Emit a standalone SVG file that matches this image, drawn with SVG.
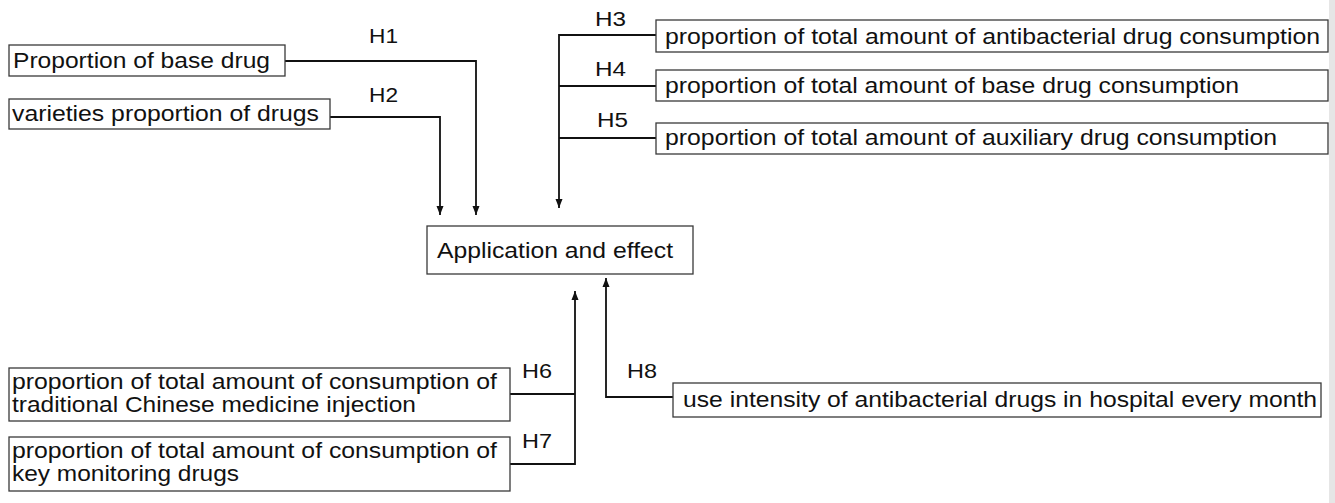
<svg xmlns="http://www.w3.org/2000/svg" width="1335" height="503" viewBox="0 0 1335 503">
<style>
.box{fill:#fff;stroke:#3a3a3a;stroke-width:1.3}
.t{font-family:"Liberation Sans",Arial,sans-serif;font-size:22px;fill:#111}
.lbl{font-family:"Liberation Sans",Arial,sans-serif;font-size:20px;fill:#111}
.c{fill:none;stroke:#111;stroke-width:1.8}
</style>
<defs>
<marker id="ah" markerUnits="userSpaceOnUse" markerWidth="10" markerHeight="10" viewBox="0 0 10 10" refX="9" refY="5" orient="auto">
<path d="M0,1.5 L9,5 L0,8.5 Z" fill="#111"/>
</marker>
</defs>
<rect x="1329" y="0" width="6" height="503" fill="#e6e6e6"/>
<g id="connectors">
<path class="c" d="M285,61 H476 V215" marker-end="url(#ah)"/>
<path class="c" d="M330,117 H440 V215" marker-end="url(#ah)"/>
<path class="c" d="M656,35 H559 V208" marker-end="url(#ah)"/>
<path class="c" d="M656,86 H559"/>
<path class="c" d="M656,138 H559"/>
<path class="c" d="M510,394 H575"/>
<path class="c" d="M510,464 H575 V291" marker-end="url(#ah)"/>
<path class="c" d="M673,397 H606 V278" marker-end="url(#ah)"/>
<text class="lbl" x="369" y="43" textLength="29" lengthAdjust="spacingAndGlyphs">H1</text>
<text class="lbl" x="369" y="102" textLength="29" lengthAdjust="spacingAndGlyphs">H2</text>
<text class="lbl" x="595" y="26" textLength="31" lengthAdjust="spacingAndGlyphs">H3</text>
<text class="lbl" x="595" y="76" textLength="31" lengthAdjust="spacingAndGlyphs">H4</text>
<text class="lbl" x="597" y="127" textLength="31" lengthAdjust="spacingAndGlyphs">H5</text>
<text class="lbl" x="522" y="378" textLength="30" lengthAdjust="spacingAndGlyphs">H6</text>
<text class="lbl" x="522" y="448" textLength="30" lengthAdjust="spacingAndGlyphs">H7</text>
<text class="lbl" x="627" y="378" textLength="30" lengthAdjust="spacingAndGlyphs">H8</text>
</g>
<g id="n-base-drug">
<rect class="box" x="9" y="45" width="276" height="31"/>
<text class="t" x="13" y="68" textLength="257" lengthAdjust="spacingAndGlyphs">Proportion of base drug</text>
</g>
<g id="n-varieties">
<rect class="box" x="9" y="99" width="321" height="30"/>
<text class="t" x="12" y="121" textLength="307" lengthAdjust="spacingAndGlyphs">varieties proportion of drugs</text>
</g>
<g id="n-h3">
<rect class="box" x="656" y="20" width="672" height="32"/>
<text class="t" x="665" y="44" textLength="655" lengthAdjust="spacingAndGlyphs">proportion of total amount of antibacterial drug consumption</text>
</g>
<g id="n-h4">
<rect class="box" x="656" y="70" width="672" height="31"/>
<text class="t" x="665" y="93" textLength="574" lengthAdjust="spacingAndGlyphs">proportion of total amount of base drug consumption</text>
</g>
<g id="n-h5">
<rect class="box" x="656" y="123" width="672" height="31"/>
<text class="t" x="665" y="145" textLength="612" lengthAdjust="spacingAndGlyphs">proportion of total amount of auxiliary drug consumption</text>
</g>
<g id="n-center">
<rect class="box" x="427" y="226" width="266" height="48"/>
<text class="t" x="437" y="258" textLength="236" lengthAdjust="spacingAndGlyphs">Application and effect</text>
</g>
<g id="n-h6">
<rect class="box" x="9" y="368" width="501" height="53"/>
<text class="t" x="12" y="389" textLength="485" lengthAdjust="spacingAndGlyphs">proportion of total amount of consumption of</text>
<text class="t" x="12" y="412" textLength="404" lengthAdjust="spacingAndGlyphs">traditional Chinese medicine injection</text>
</g>
<g id="n-h7">
<rect class="box" x="9" y="437" width="501" height="54"/>
<text class="t" x="12" y="458" textLength="485" lengthAdjust="spacingAndGlyphs">proportion of total amount of consumption of</text>
<text class="t" x="12" y="481" textLength="227" lengthAdjust="spacingAndGlyphs">key monitoring drugs</text>
</g>
<g id="n-h8">
<rect class="box" x="673" y="383" width="648" height="34"/>
<text class="t" x="683" y="407" textLength="634" lengthAdjust="spacingAndGlyphs">use intensity of antibacterial drugs in hospital every month</text>
</g>
</svg>
